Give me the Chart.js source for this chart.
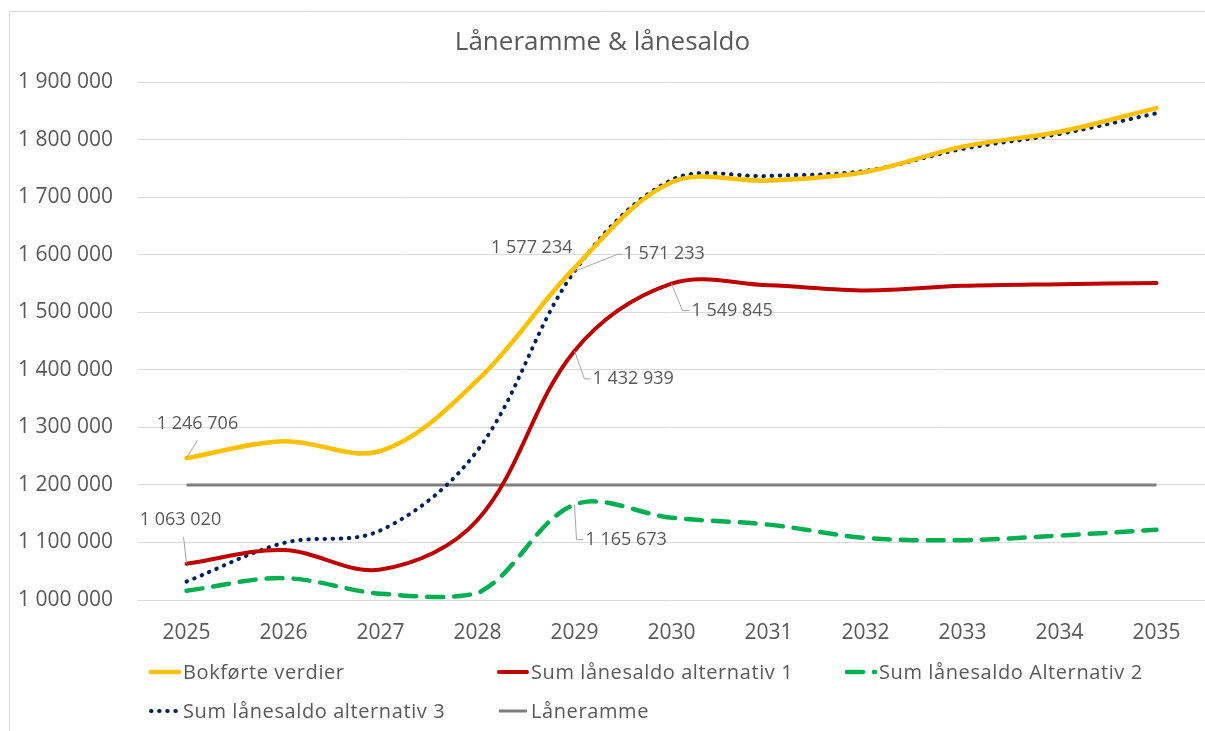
<!DOCTYPE html>
<html>
<head>
<meta charset="utf-8">
<script src="https://cdn.jsdelivr.net/npm/chart.js"></script>
<style>
  body { margin: 0; background: #fff; overflow: hidden; }
  #wrap { position: relative; width: 1205px; height: 731px; }
  #legende { position: absolute; left: 148px; top: 652px; width: 1057px; font-family: "Open Sans", sans-serif; font-size: 20px; letter-spacing: 0.6px; color: #595959; }
  .rad { display: flex; height: 39px; align-items: center; }
  .item { width: 348px; display: flex; align-items: center; white-space: nowrap; }
  .item canvas { margin-right: 1px; }
</style>
</head>
<body>
<div id="wrap">
  <canvas id="myChart" width="1205" height="731"></canvas>
  <div id="legende"></div>
</div>
<script>
// verdier lest av figuren
const aar = ['2025', '2026', '2027', '2028', '2029', '2030', '2031', '2032', '2033', '2034', '2035'];
const bokforte = [1246706, 1276000, 1259000, 1382000, 1577234, 1726000, 1729000, 1744000, 1788000, 1814000, 1855000];
const alt1 = [1063020, 1087000, 1053000, 1139000, 1432939, 1549845, 1547000, 1538000, 1546000, 1549000, 1551000];
const alt2 = [1016000, 1038000, 1011000, 1012000, 1165673, 1143000, 1131000, 1108000, 1104000, 1112000, 1122000];
const alt3 = [1032000, 1099000, 1121000, 1260000, 1571233, 1730000, 1737000, 1746000, 1784000, 1810000, 1846000];
const laneramme = [1200000, 1200000, 1200000, 1200000, 1200000, 1200000, 1200000, 1200000, 1200000, 1200000, 1200000];
const serieNavn = ['Bokførte verdier', 'Sum lånesaldo alternativ 1', 'Sum lånesaldo Alternativ 2', 'Sum lånesaldo alternativ 3', 'Låneramme'];
const yMin = 1000000;
const yMax = 1900000;
const ySteg = 100000;

const FONT = '"Open Sans", sans-serif';
const GRAA = '#595959';

function formater(v) {
  return String(Math.round(v)).replace(/\B(?=(\d{3})+(?!\d))/g, ' ');
}

// etiketter med ledelinjer: [serie, punkt, ledelinje (relativt), tekstposisjon, justering]
const etiketter = [
  { ds: 0, i: 0, linje: [[11, -18]], tekst: [11, -34], align: 'center' },
  { ds: 1, i: 0, linje: [[-3, -27]], tekst: [-6, -44], align: 'center' },
  { ds: 0, i: 4, linje: [], tekst: [-2, -20], align: 'right' },
  { ds: 3, i: 4, linje: [[43, -17], [48, -17]], tekst: [49, -17], align: 'left' },
  { ds: 1, i: 5, linje: [[11, 27], [18, 27]], tekst: [20, 27], align: 'left' },
  { ds: 1, i: 4, linje: [[10, 28], [16, 28]], tekst: [18, 28], align: 'left' },
  { ds: 2, i: 4, linje: [[2, 35], [9, 35]], tekst: [11, 35], align: 'left' }
];

const etikettPlugin = {
  id: 'etiketter',
  afterDatasetsDraw(chart) {
    const ctx = chart.ctx;
    ctx.save();
    etiketter.forEach(e => {
      const p = chart.getDatasetMeta(e.ds).data[e.i];
      const verdi = chart.data.datasets[e.ds].data[e.i];
      if (e.linje.length) {
        ctx.strokeStyle = '#a6a6a6';
        ctx.lineWidth = 1;
        ctx.beginPath();
        ctx.moveTo(p.x, p.y);
        e.linje.forEach(l => ctx.lineTo(p.x + l[0], p.y + l[1]));
        ctx.stroke();
      }
      ctx.fillStyle = GRAA;
      ctx.font = '18px ' + FONT;
      ctx.textAlign = e.align;
      ctx.textBaseline = 'middle';
      ctx.fillText(formater(verdi), p.x + e.tekst[0], p.y + e.tekst[1]);
    });
    ctx.restore();
  }
};

const rammePlugin = {
  id: 'ramme',
  beforeDraw(chart) {
    const ctx = chart.ctx;
    ctx.save();
    ctx.strokeStyle = '#d9d9d9';
    ctx.lineWidth = 1;
    ctx.beginPath();
    ctx.moveTo(9.5, 731);
    ctx.lineTo(9.5, 11.5);
    ctx.lineTo(1205, 11.5);
    ctx.stroke();
    ctx.restore();
  }
};

const stiler = [
  { borderColor: '#FFC000', borderWidth: 4.5, borderDash: [], borderCapStyle: 'round' },
  { borderColor: '#C00000', borderWidth: 4, borderDash: [], borderCapStyle: 'round' },
  { borderColor: '#00B050', borderWidth: 4.5, borderDash: [16, 11], borderCapStyle: 'round' },
  { borderColor: '#002060', borderWidth: 4, borderDash: [0.5, 7.6], borderCapStyle: 'round' },
  { borderColor: '#7F7F7F', borderWidth: 3, borderDash: [], borderCapStyle: 'butt' }
];
const serier = [bokforte, alt1, alt2, alt3, laneramme];

// tegnerekkefølge: grå linje bak
const rekkefolge = [1, 2, 3, 4, 5];

const datasets = serier.map((data, k) => ({
  label: serieNavn[k],
  data: data,
  borderColor: stiler[k].borderColor,
  backgroundColor: stiler[k].borderColor,
  borderWidth: stiler[k].borderWidth,
  borderDash: stiler[k].borderDash,
  borderCapStyle: stiler[k].borderCapStyle,
  pointRadius: 0,
  tension: k === 4 ? 0 : 0.35,
  fill: false,
  order: rekkefolge[k]
}));

const chart = new Chart(document.getElementById('myChart'), {
  type: 'line',
  data: { labels: aar, datasets: datasets },
  options: {
    responsive: false,
    animation: false,
    layout: { padding: { left: 0, right: 0, top: 0, bottom: 71 } },
    plugins: {
      legend: { display: false },
      tooltip: { enabled: false },
      title: {
        display: true,
        text: 'Låneramme & lånesaldo',
        color: GRAA,
        font: { family: FONT, size: 26, weight: 'normal' },
        padding: { top: 27, bottom: 24 }
      }
    },
    scales: {
      x: {
        offset: true,
        grid: { display: false, drawTicks: false },
        border: { display: false },
        ticks: { color: GRAA, font: { family: FONT, size: 21 }, padding: 20, maxRotation: 0 },
        afterFit(s) { s.height = 60; }
      },
      y: {
        min: yMin,
        max: yMax,
        grid: { color: '#d9d9d9', lineWidth: 1, drawTicks: false },
        border: { display: false },
        ticks: {
          stepSize: ySteg,
          color: GRAA,
          font: { family: FONT, size: 21 },
          padding: 25,
          callback: v => formater(v)
        },
        afterFit(s) { s.width = 138; }
      }
    }
  },
  plugins: [rammePlugin, etikettPlugin]
});

// egen legende i kolonner
const legende = document.getElementById('legende');
const rader = [[0, 1, 2], [3, 4]];
rader.forEach(rad => {
  const r = document.createElement('div');
  r.className = 'rad';
  rad.forEach(k => {
    const ds = chart.data.datasets[k];
    const item = document.createElement('div');
    item.className = 'item';
    const c = document.createElement('canvas');
    c.width = 34; c.height = 12;
    const g = c.getContext('2d');
    g.strokeStyle = ds.borderColor;
    g.lineWidth = ds.borderWidth;
    g.lineCap = ds.borderCapStyle;
    g.setLineDash(ds.borderDash);
    g.beginPath();
    g.moveTo(3, 6);
    g.lineTo(31, 6);
    g.stroke();
    item.appendChild(c);
    const t = document.createElement('span');
    t.textContent = ds.label;
    item.appendChild(t);
    r.appendChild(item);
  });
  legende.appendChild(r);
});
</script>
</body>
</html>
